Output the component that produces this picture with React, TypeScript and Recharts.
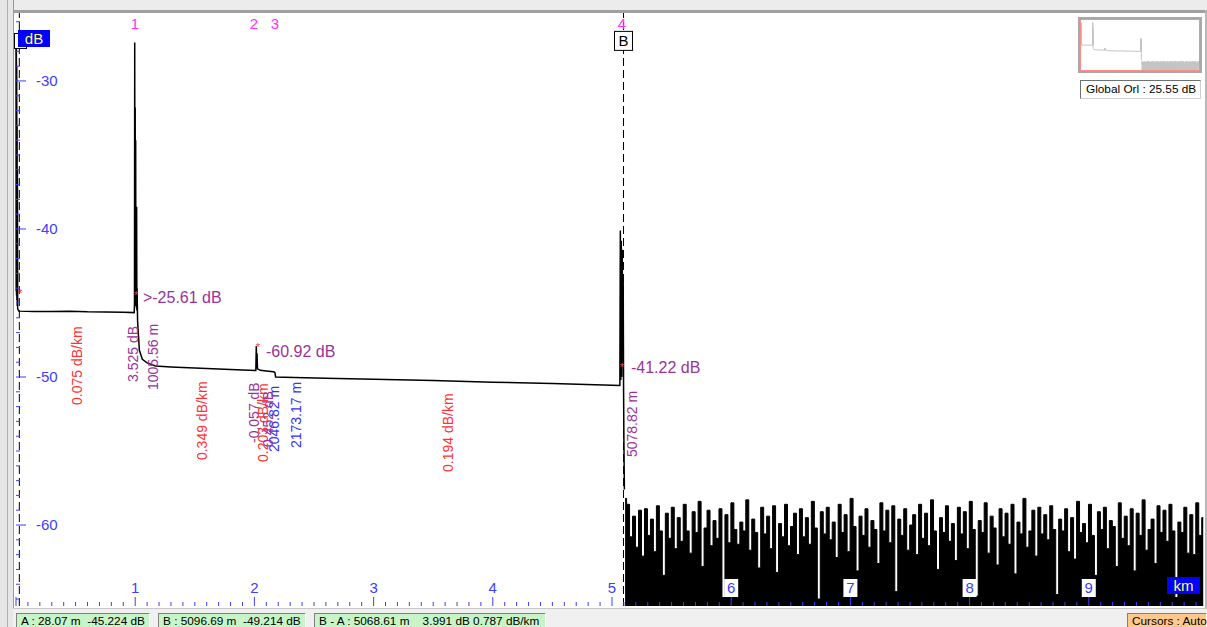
import React from "react"
import {
  ComposedChart,
  Line,
  Area,
  XAxis,
  YAxis,
  ReferenceLine,
  ReferenceDot,
} from "recharts"

// OTDR trace samples (km, dB)
const traceKm = [
  0.0, 0.0015, 0.003, 0.0045, 0.006, 0.0075, 0.009, 0.0105, 0.012, 0.014, 0.024,
  0.15, 0.3, 0.45, 0.6, 0.75, 0.9, 0.992, 0.994, 0.996, 0.998, 1.0, 1.002, 1.004,
  1.006, 1.008, 1.01, 1.012, 1.014, 1.016, 1.02, 1.035, 1.06, 1.1, 1.17, 1.3,
  1.5, 1.7, 1.9, 2.012, 2.016, 2.019, 2.022, 2.026, 2.05, 2.1, 2.16, 2.172,
  2.178, 2.25, 2.6, 3.0, 3.5, 4.0, 4.5, 5.0, 5.066, 5.07, 5.074, 5.078, 5.082,
  5.086, 5.09, 5.094, 5.097, 5.1, 5.104,
]
const traceDb = [
  -27.3, -44.2, -27.8, -44.5, -29.0, -44.8, -33.0, -45.2, -36.0, -45.4, -45.55,
  -45.57, -45.58, -45.56, -45.6, -45.61, -45.62, -45.65, -45.0, -27.4, -44.8,
  -31.8, -45.1, -34.0, -45.2, -38.7, -45.3, -38.5, -45.5, -44.0, -46.2, -48.2,
  -48.8, -49.05, -49.25, -49.32, -49.4, -49.46, -49.53, -49.56, -47.9, -49.4,
  -48.4, -49.45, -49.55, -49.6, -49.65, -49.7, -50.0, -50.02, -50.08, -50.15,
  -50.24, -50.35, -50.44, -50.55, -50.57, -40.1, -50.2, -40.8, -50.0, -41.4,
  -49.0, -43.5, -50.5, -54.3, -57.6,
]

// noise floor after the fibre end, sampled every 25 m
const noiseStartKm = 5.11
const noiseStepKm = 0.025
const noiseDb = [
  -58.2, -58.6, -60.8, -59.4, -61.5, -59.0, -62.1, -58.9, -60.7, -59.6,
  -61.8, -58.7, -60.4, -63.4, -59.2, -60.9, -58.8, -61.6, -59.5, -61.1,
  -58.6, -60.4, -61.9, -59.1, -60.5, -58.4, -62.8, -60.2, -59.0, -61.4,
  -59.7, -60.9, -58.9, -64.9, -59.3, -61.2, -58.5, -60.3, -61.3, -59.8,
  -60.4, -58.3, -61.7, -59.6, -60.5, -62.9, -58.8, -60.6, -59.4, -61.6,
  -58.7, -63.2, -59.9, -60.8, -58.6, -61.4, -60.1, -59.2, -62.0, -58.9,
  -60.8, -59.5, -61.3, -58.4, -60.2, -65.0, -59.1, -60.6, -58.8, -61.0,
  -59.8, -62.2, -58.6, -60.5, -59.3, -61.8, -58.2, -60.1, -63.1, -59.4,
  -60.7, -58.9, -61.5, -59.7, -60.3, -62.6, -58.5, -60.4, -59.0, -61.2,
  -58.7, -64.5, -59.6, -60.7, -58.9, -61.7, -60.0, -59.3, -62.0, -58.6,
  -60.9, -59.2, -61.4, -58.3, -60.4, -63.0, -59.5, -60.5, -58.7, -61.1,
  -59.9, -62.4, -58.8, -60.6, -59.1, -61.6, -58.4, -60.3, -64.8, -59.7,
  -60.5, -58.5, -61.9, -59.4, -60.2, -62.7, -58.9, -60.8, -59.2, -61.3,
  -58.6, -63.3, -59.8, -60.6, -58.2, -61.5, -60.4, -59.0, -62.1, -58.8,
  -60.6, -59.3, -61.0, -58.7, -60.3, -64.7, -59.6, -60.4, -58.9, -61.8,
  -59.5, -62.3, -58.4, -60.5, -59.9, -61.2, -58.6, -60.7, -63.4, -59.1,
  -60.3, -58.8, -61.6, -59.7, -60.1, -62.8, -58.5, -60.9, -59.4, -61.4,
  -58.9, -63.1, -59.2, -60.7, -58.3, -61.7, -60.3, -59.6, -62.6, -58.7,
  -60.5, -59.0, -61.1, -58.6, -60.4, -64.9, -59.8, -60.5, -58.8, -61.9,
  -59.3, -62.0, -58.5, -60.7, -59.5,
]

const cursorAKm = 0.028
const cursorBKm = 5.0967

const eventNames = ["1", "2", "3", "4"]
const eventKm = [0.998, 1.997, 2.173, 5.084]

// red event markers on the trace
const markerKm = [0.034, 1.007, 2.03, 5.084]
const markerDb = [-44.19, -44.32, -47.84, -49.19]

// event table labels, placed in chart units
type Note = { text: string; km: number; db: number; kind: "loss" | "slope" | "dist"; vertical: boolean }
const notes: Note[] = [
  { text: ">-25.61 dB", km: 1.065, db: -44.59, kind: "loss", vertical: false },
  { text: "-60.92 dB", km: 2.097, db: -48.24, kind: "loss", vertical: false },
  { text: "-41.22 dB", km: 5.159, db: -49.32, kind: "loss", vertical: false },
  { text: "0.075 dB/km", km: 0.512, db: -51.89, kind: "slope", vertical: true },
  { text: "3.525 dB", km: 0.982, db: -50.34, kind: "loss", vertical: true },
  { text: "1005.56 m", km: 1.149, db: -50.88, kind: "loss", vertical: true },
  { text: "0.349 dB/km", km: 1.56, db: -55.61, kind: "slope", vertical: true },
  { text: "-0.057 dB", km: 1.997, db: -54.46, kind: "loss", vertical: true },
  { text: "0.203 dB/km", km: 2.072, db: -55.74, kind: "slope", vertical: true },
  { text: "2046.82 m", km: 2.164, db: -55.07, kind: "dist", vertical: true },
  { text: "0.452 dB", km: 2.118, db: -54.73, kind: "loss", vertical: true },
  { text: "2173.17 m", km: 2.349, db: -54.8, kind: "dist", vertical: true },
  { text: "0.194 dB/km", km: 3.624, db: -56.42, kind: "slope", vertical: true },
  { text: "5078.82 m", km: 5.168, db: -55.41, kind: "loss", vertical: true },
]

const X_MAX = 9.975
const Y_MIN = -65.47
const Y_MAX = -25.41
const PLOT_LEFT = 16
const PLOT_BOTTOM = 606

const AXIS_BLUE = "#3d3dff"
const PURPLE = "#993399"
const RED = "#ff3333"
const BLUE = "#3333ff"
const MAGENTA = "#ff33ff"
const FONT = "'Liberation Sans', Arial, sans-serif"

const traceData = traceKm.map((km, i) => ({ km, db: traceDb[i] }))
const noiseData = noiseDb.map((db, i) => ({ km: noiseStartKm + i * noiseStepKm, noise: db }))
const yTicks = Array.from({ length: 40 }, (_, i) => -65 + i)
const xTicks = Array.from({ length: 100 }, (_, i) => i / 10)

const noteColor = (kind: Note["kind"]) => (kind === "slope" ? RED : kind === "dist" ? BLUE : PURPLE)

const YTick = (props: any) => {
  const { y, payload } = props
  const v = payload.value
  const major = v % 10 === 0
  return (
    <g>
      <line x1={PLOT_LEFT} x2={PLOT_LEFT + (major ? 10 : 4)} y1={y} y2={y} stroke={AXIS_BLUE} />
      {major && (
        <text x={36} y={y + 5} fill={AXIS_BLUE} fontSize={15} fontFamily={FONT}>
          {v}
        </text>
      )}
    </g>
  )
}

const XTick = (props: any) => {
  const { x, payload } = props
  const v = payload.value
  const major = Math.abs(v - Math.round(v)) < 1e-6
  return (
    <g>
      <line x1={x} x2={x} y1={major ? 597 : 602} y2={PLOT_BOTTOM} stroke={AXIS_BLUE} />
      {major && v > 0 && (
        <g>
          <rect x={x - 7} y={579} width={14} height={18} fill="#ffffff" />
          <text x={x} y={593} textAnchor="middle" fill={AXIS_BLUE} fontSize={15} fontFamily={FONT}>
            {Math.round(v)}
          </text>
        </g>
      )}
    </g>
  )
}

const noteShape = (n: Note) => (p: any) =>
  n.vertical ? (
    <text
      x={p.cx}
      y={p.cy}
      transform={`rotate(-90, ${p.cx}, ${p.cy})`}
      dy={5}
      fill={noteColor(n.kind)}
      fontSize={14}
      fontFamily={FONT}
    >
      {n.text}
    </text>
  ) : (
    <text x={p.cx} y={p.cy} dy={6} fill={noteColor(n.kind)} fontSize={16} fontFamily={FONT}>
      {n.text}
    </text>
  )

function Thumbnail() {
  return (
    <div
      style={{
        position: "absolute",
        left: 1078,
        top: 17,
        width: 124,
        height: 56,
        boxSizing: "border-box",
        border: "2px solid #a8a8a8",
        background: "#fff",
      }}
    >
      <div style={{ position: "absolute", inset: 0, border: "1px solid #ff8a8a" }} />
      <div style={{ position: "absolute", left: 1, top: 1 }}>
        <ComposedChart width={118} height={50} margin={{ top: 0, right: 0, bottom: 0, left: 0 }}>
          <XAxis dataKey="km" type="number" domain={[0, X_MAX]} hide allowDataOverflow />
          <YAxis type="number" domain={[Y_MIN, Y_MAX]} hide allowDataOverflow />
          <Area
            data={noiseData}
            dataKey="noise"
            type="step"
            baseValue={Y_MIN}
            stroke="#c4c4c4"
            fill="#c4c4c4"
            fillOpacity={1}
            isAnimationActive={false}
          />
          <Line data={traceData} dataKey="db" type="linear" stroke="#c4c4c4" dot={false} isAnimationActive={false} />
        </ComposedChart>
      </div>
    </div>
  )
}

const statusBox = (left: number, width: number, text: string, bg: string) => (
  <div
    style={{
      position: "absolute",
      left,
      top: 613,
      width,
      height: 16,
      boxSizing: "border-box",
      background: bg,
      borderTop: "1px solid #808080",
      borderLeft: "1px solid #808080",
      borderRight: "1px solid #ffffff",
      fontSize: 11.8,
      lineHeight: "14px",
      paddingLeft: 4,
      whiteSpace: "pre",
      color: "#000",
    }}
  >
    {text}
  </div>
)

export default function App() {
  return (
    <div
      style={{
        position: "absolute",
        left: 0,
        top: 0,
        width: 1207,
        height: 627,
        background: "#ffffff",
        overflow: "hidden",
        fontFamily: FONT,
      }}
    >
      {/* toolbar strip and window frame */}
      <div style={{ position: "absolute", left: 0, top: 0, width: 1207, height: 10, background: "#ececec" }} />
      <div style={{ position: "absolute", left: 0, top: 10, width: 1207, height: 3, background: "#a0a0a0" }} />
      <div style={{ position: "absolute", left: 0, top: 0, width: 13, height: 627, background: "#e6e6e6", borderRight: "1px solid #9a9a9a" }} />
      <div style={{ position: "absolute", left: 7, top: 0, width: 1, height: 627, background: "#b0b0b0" }} />
      <div style={{ position: "absolute", left: 1205, top: 10, width: 2, height: 600, background: "#b8b8b8" }} />

      <div style={{ position: "absolute", left: 0, top: 0 }}>
        <ComposedChart width={1207} height={608} margin={{ top: 13, right: 2, bottom: 1, left: 15 }}>
          <XAxis
            dataKey="km"
            type="number"
            domain={[0, X_MAX]}
            ticks={xTicks}
            interval={0}
            height={1}
            axisLine={false}
            tickLine={false}
            tick={<XTick />}
          />
          <YAxis
            type="number"
            domain={[Y_MIN, Y_MAX]}
            ticks={yTicks}
            interval={0}
            width={1}
            axisLine={false}
            tickLine={false}
            tick={<YTick />}
          />
          <ReferenceLine x={cursorAKm} stroke="#000" strokeDasharray="8 4" />
          <ReferenceLine x={cursorBKm} stroke="#000" strokeDasharray="8 4" />
          <Area
            data={noiseData}
            dataKey="noise"
            type="step"
            baseValue={Y_MIN}
            stroke="#000"
            strokeWidth={1}
            fill="#000"
            fillOpacity={1}
            isAnimationActive={false}
          />
          <Line
            data={traceData}
            dataKey="db"
            type="linear"
            stroke="#000"
            strokeWidth={1.5}
            dot={false}
            isAnimationActive={false}
          />
          {eventKm.map((km, i) => (
            <ReferenceDot
              key={`ev-${i}`}
              x={km}
              y={-26.15}
              r={0}
              ifOverflow="visible"
              shape={(p: any) => (
                <text x={p.cx} y={p.cy} dy={5} textAnchor="middle" fill={MAGENTA} fontSize={15} fontFamily={FONT}>
                  {eventNames[i]}
                </text>
              )}
            />
          ))}
          {markerKm.map((km, i) => (
            <ReferenceDot
              key={`mk-${i}`}
              x={km}
              y={markerDb[i]}
              r={0}
              ifOverflow="visible"
              shape={(p: any) => (
                <text x={p.cx} y={p.cy} dy={6} textAnchor="middle" fill={RED} fontSize={11} fontFamily={FONT}>
                  *
                </text>
              )}
            />
          ))}
          <ReferenceDot
            x={cursorBKm}
            y={-27.26}
            r={0}
            ifOverflow="visible"
            shape={(p: any) => (
              <g>
                <rect x={p.cx - 9} y={p.cy - 9} width={18} height={19} fill="#fff" stroke="#000" />
                <text x={p.cx} y={p.cy + 6} textAnchor="middle" fill="#000" fontSize={15} fontFamily={FONT}>
                  B
                </text>
              </g>
            )}
          />
          {notes.map((n, i) => (
            <ReferenceDot key={`note-${i}`} x={n.km} y={n.db} r={0} ifOverflow="visible" shape={noteShape(n)} />
          ))}
        </ComposedChart>
      </div>

      {/* cursor A flag and unit badges */}
      <div style={{ position: "absolute", left: 14, top: 33, width: 13, height: 16, boxSizing: "border-box", border: "1px solid #000", background: "#fff" }} />
      <div style={{ position: "absolute", left: 18, top: 30, width: 32, height: 17, background: "#0000ff", color: "#ffff66", fontSize: 15, lineHeight: "17px", textAlign: "center" }}>
        dB
      </div>
      <div style={{ position: "absolute", left: 1167, top: 577, width: 33, height: 17, background: "#0000ff", color: "#ffff66", fontSize: 15, lineHeight: "17px", textAlign: "center" }}>
        km
      </div>

      <Thumbnail />
      <div
        style={{
          position: "absolute",
          left: 1080,
          top: 80,
          width: 121,
          height: 19,
          boxSizing: "border-box",
          borderTop: "1px solid #707070",
          borderLeft: "1px solid #707070",
          borderRight: "1px solid #d0d0d0",
          borderBottom: "1px solid #d0d0d0",
          background: "#fff",
          fontSize: 11.8,
          lineHeight: "17px",
          paddingLeft: 5,
          color: "#000",
        }}
      >
        Global Orl : 25.55 dB
      </div>

      {/* status bar */}
      <div style={{ position: "absolute", left: 13, top: 608, width: 1194, height: 19, background: "#f0f0f0", borderTop: "1px solid #c8c8c8" }} />
      {statusBox(16, 134, "A : 28.07 m  -45.224 dB", "#c8f5c8")}
      {statusBox(158, 148, "B : 5096.69 m  -49.214 dB", "#c8f5c8")}
      {statusBox(314, 232, "B - A : 5068.61 m    3.991 dB 0.787 dB/km", "#c8f5c8")}
      {statusBox(1127, 80, "Cursors : Auto", "#ffc88c")}
    </div>
  )
}
